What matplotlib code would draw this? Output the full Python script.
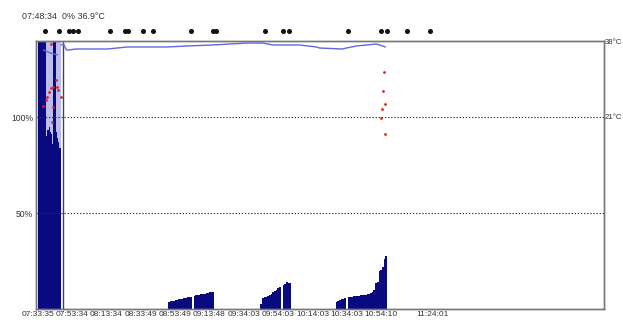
import matplotlib
matplotlib.use("Agg")
import matplotlib.pyplot as plt
import matplotlib.transforms as mtransforms

plt.rcParams['font.family'] = ['Liberation Sans', 'DejaVu Sans']

# time axis: minutes after 07:33:35
def mins(s):
    h, m, sec = [int(v) for v in s.split(":")]
    return (h * 3600 + m * 60 + sec - (7 * 3600 + 33 * 60 + 35)) / 60.0

tick_labels = ["07:33:35", "07:53:34", "08:13:34", "08:33:49", "08:53:49", "09:13:48",
               "09:34:03", "09:54:03", "10:14:03", "10:34:03", "10:54:10", "11:24:01"]
cursor_time = "07:48:34"
readout = "07:48:34  0% 36.9°C"

# bars (%), first block is clipped at the top of the chart
seg_a_t = [0.0, 0.6, 1.2, 2.3, 2.9, 3.5, 4.1, 4.7, 5.2, 5.8, 6.4, 7.0, 7.6, 8.1,
           8.7, 9.3, 9.9, 10.5, 11.0, 11.6, 12.2, 12.8]
seg_a_v = [140, 140, 140, 140, 140, 140, 140, 88, 90, 93, 95, 92, 91, 89,
           86, 140, 140, 90, 92, 89, 87, 84]

seg_b_t = [76, 77, 78, 79, 80, 81, 82, 83, 84, 85, 86, 87, 88, 89, 91, 92, 93,
           94, 95, 96, 97, 98, 99, 100, 101, 102]
seg_b_v = [3.5, 4.0, 4.2, 4.4, 4.5, 4.7, 5.0, 5.2, 5.3, 5.5, 5.8, 6.0, 6.2, 6.3,
           7.0, 7.2, 7.3, 7.5, 7.6, 7.8, 8.0, 8.2, 8.4, 8.6, 8.8, 9.0]

seg_c_t = [130, 131, 132, 133, 134, 135, 136, 137, 138, 139, 140, 141, 143, 144,
           145, 146, 147]
seg_c_v = [2.5, 5.5, 6.0, 6.5, 7.0, 7.5, 8.0, 9.0, 9.5, 10.0, 11.0, 11.5, 12.5,
           13.0, 14.0, 13.5, 13.5]

seg_d_t = [174, 175, 176, 177, 178, 179, 181, 182, 183, 184, 185, 186, 187, 188,
           189, 190, 191, 192, 193, 194, 195, 196, 197, 198, 199, 200, 201, 202, 203]
seg_d_v = [3.5, 4.0, 4.5, 5.0, 5.0, 5.5, 6.0, 6.5, 6.5, 7.0, 7.0, 7.0, 7.0, 7.2,
           7.3, 7.5, 7.5, 7.8, 8.0, 8.5, 9.0, 10.0, 13.5, 14.0, 20.0, 20.5, 22.0,
           26.0, 27.5]

# temperature (°C, right axis)
temp_early_t = [3.5, 7.6, 11.6]
temp_early_v = [35.99, 35.3, 34.9]
temp_t = [13.95, 15.1, 16.9, 18.6, 22.1, 40.7, 52.3, 75.6, 87.2, 102.3, 122.1,
          131.4, 137.2, 152.9, 162.8, 164.5, 177.9, 180.2, 186.0, 197.7, 202.9]
temp_v = [37.11, 37.33, 35.99, 35.99, 36.21, 36.21, 36.66, 36.66, 36.88, 37.11,
          37.55, 37.55, 37.11, 37.11, 36.66, 36.43, 36.21, 36.43, 36.88, 37.33, 36.66]

# red points (%)
red_t = [2.9, 4.65, 5.8, 6.4, 7.6, 9.3, 10.5, 11.6, 12.2, 13.4, 9.3, 8.7, 8.1,
         202.3, 201.7, 202.9, 201.2, 200.6, 202.9]
red_v = [105.7, 108.9, 110.4, 113.0, 115.1, 115.6, 119.3, 115.6, 114.1, 110.4,
         105.2, 97.4, 138.0, 123.4, 113.5, 106.8, 104.2, 99.5, 91.1]

# event markers above the chart
event_t = [4.1, 12.8, 18.6, 20.9, 23.8, 42.4, 51.2, 52.9, 61.6, 67.4, 89.5, 102.3,
           104.1, 132.6, 143.0, 146.5, 181.4, 200.6, 204.1, 215.7, 229.1]

navy = "#0a0a80"
light = "#bcbcee"
tcol = "#333333"

fig = plt.figure(figsize=(6.23, 3.22), dpi=100)
ax = fig.add_axes([36 / 623, 1 - 309 / 322, 568 / 623, 268 / 322])
ax2 = ax.twinx()

ax.axvspan(min(seg_a_t), max(seg_a_t) + 0.6, color=light, lw=0, zorder=1)
ax.bar(seg_a_t, seg_a_v, width=0.6, align="edge", color=navy, lw=0, zorder=2)
for t, v in [(seg_b_t, seg_b_v), (seg_c_t, seg_c_v), (seg_d_t, seg_d_v)]:
    ax.bar(t, v, width=1.0, align="edge", color=navy, lw=0, zorder=2)

ax.scatter(red_t, red_v, s=4, color="#e02020", lw=0, zorder=4)

for y in (50, 100):
    ax.axhline(y, color="#333333", lw=0.8, ls=(0, (1.2, 1.6)), zorder=3)

ax.axvline(mins(cursor_time), color="#444444", lw=1, zorder=4)

ax2.plot(temp_early_t, temp_early_v, color="#6464e0", lw=1, zorder=5)
ax2.plot(temp_t, temp_v, color="#6464e0", lw=1, zorder=5)

trans = mtransforms.blended_transform_factory(ax.transData, ax.transAxes)
ax.plot(event_t, [1.037] * len(event_t), "o", ms=2.6, color="#111111",
        transform=trans, clip_on=False)
ax.text(mins(cursor_time), 1.09, readout, transform=trans, ha="center",
        va="center", fontsize=6.4, color=tcol)

ax.set_xlim(-0.9, 330.5)
ax.set_ylim(0, 139.6)
ax2.set_ylim(-21.95, 38)

ax.set_xticks([mins(s) for s in tick_labels])
ax.set_xticklabels(tick_labels)
ax.set_yticks([50, 100])
ax.set_yticklabels(["50%", "100%"])
ax2.set_yticks([21, 38])
ax2.set_yticklabels(["21°C", "38°C"])

ax.tick_params(axis="x", length=0, pad=1.5, labelsize=6, colors=tcol)
ax.tick_params(axis="y", length=0, pad=2, labelsize=6.2, colors=tcol)
ax2.tick_params(axis="y", length=0, pad=0.8, labelsize=5.6, colors=tcol)

for a in (ax, ax2):
    for sp in a.spines.values():
        sp.set_color("#777777")
        sp.set_linewidth(1)

fig.savefig("out.png", dpi=100)
